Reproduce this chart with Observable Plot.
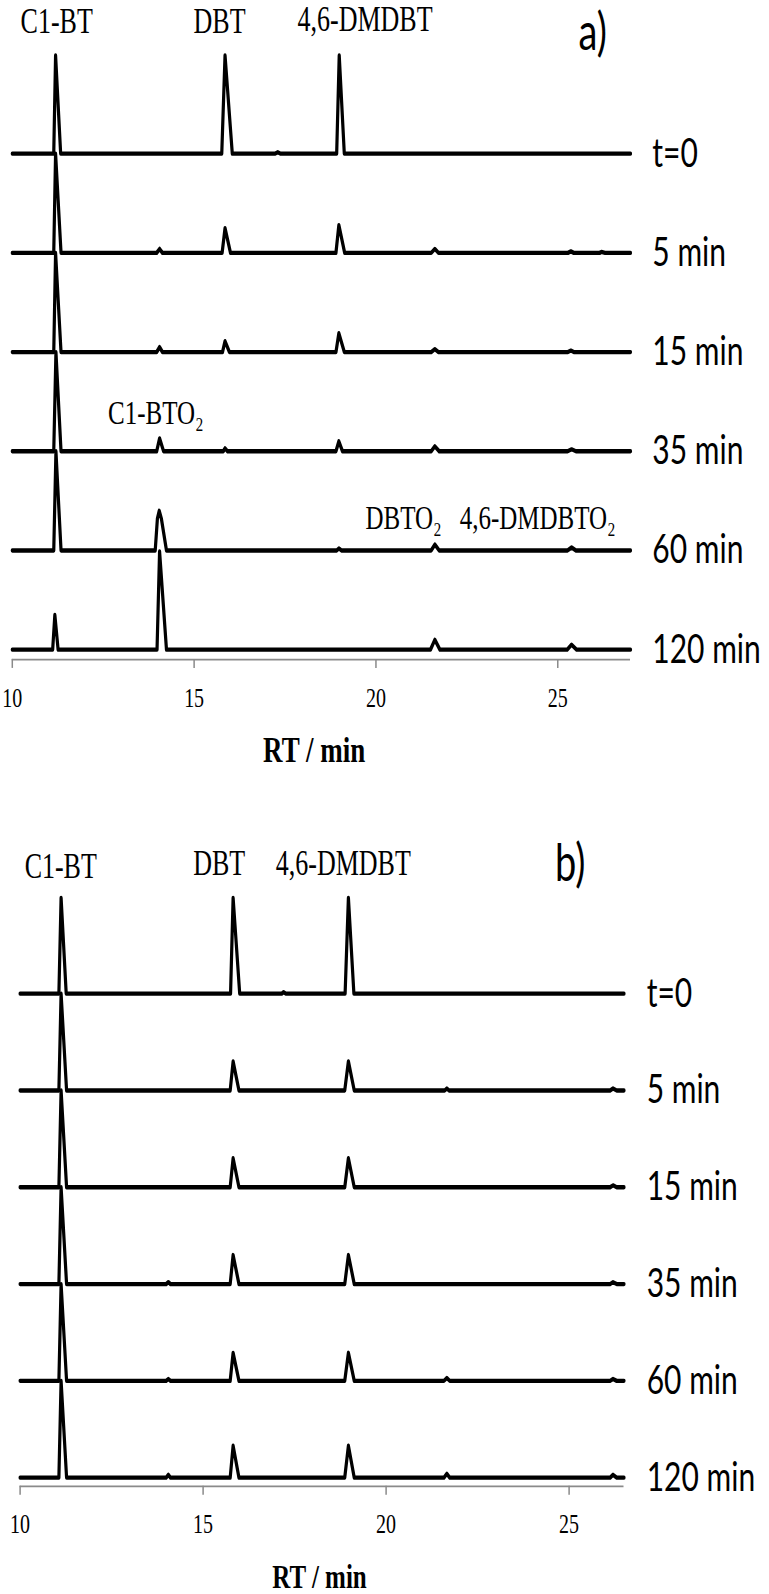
<!DOCTYPE html>
<html><head><meta charset="utf-8">
<script src="https://cdn.jsdelivr.net/npm/d3@7"></script>
<script src="https://cdn.jsdelivr.net/npm/@observablehq/plot@0.6"></script>
<style>html,body{margin:0;padding:0;background:#fff;} svg{display:block;}</style>
</head><body><div id="chart"></div>
<script>
// ---------- data ----------
const timeLabels = ["t=0", "5 min", "15 min", "35 min", "60 min", "120 min"];
const traceOffsets = [500, 400, 300, 200, 100, 0];
const xTicks = [10, 15, 20, 25];

// Panel a) — chromatogram vertices [RT (min), relative intensity]
const a_t0 = [[10,0],[11.14,0],[11.19,99],[11.33,0],[15.76,0],[15.85,99],[16.05,0],[17.22,0],[17.3,1.5],[17.38,0],[18.92,0],[18.99,99],[19.13,0],[27,0]];
const a_5 = [[10,0],[11.14,0],[11.19,100],[11.34,0],[13.97,0],[14.05,4],[14.13,0],[15.77,0],[15.85,25],[16.0,0],[18.9,0],[18.98,28],[19.14,0],[21.52,0],[21.62,4],[21.72,0],[25.28,0],[25.36,1.5],[25.44,0],[26.15,0],[26.2,1],[26.3,0],[27,0]];
const a_15 = [[10,0],[11.14,0],[11.19,100],[11.34,0],[13.97,0],[14.05,5],[14.13,0],[15.78,0],[15.85,11],[15.97,0],[18.9,0],[18.98,19],[19.13,0],[21.52,0],[21.62,3],[21.72,0],[25.28,0],[25.36,1.5],[25.44,0],[27,0]];
const a_35 = [[10,0],[11.14,0],[11.2,100],[11.34,0],[13.97,0],[14.05,13],[14.16,0],[15.8,0],[15.85,3],[15.92,0],[18.9,0],[18.98,10],[19.08,0],[21.52,0],[21.62,5],[21.74,0],[25.27,0],[25.38,2],[25.5,0],[27,0]];
const a_60 = [[10,0],[11.14,0],[11.2,100],[11.34,0],[13.93,0],[13.99,32],[14.04,40],[14.1,32],[14.24,0],[18.92,0],[18.98,2],[19.05,0],[21.52,0],[21.62,6],[21.74,0],[25.27,0],[25.38,3],[25.5,0],[27,0]];
const a_120 = [[10,0],[11.11,0],[11.17,35],[11.26,0],[13.98,0],[14.05,99],[14.24,0],[21.5,0],[21.62,10],[21.76,0],[25.26,0],[25.38,5],[25.52,0],[27,0]];

// Panel b)
const b_t0 = [[10,0],[11.06,0],[11.12,99],[11.26,0],[15.75,0],[15.82,99],[16.0,0],[17.15,0],[17.2,1.5],[17.26,0],[18.88,0],[18.97,99],[19.12,0],[26.5,0]];
const b_5 = [[10,0],[11.06,0],[11.12,100],[11.27,0],[15.74,0],[15.82,30],[15.98,0],[18.87,0],[18.97,30],[19.13,0],[21.6,0],[21.66,2],[21.72,0],[26.12,0],[26.2,2],[26.3,0],[26.5,0]];
const b_15 = [[10,0],[11.06,0],[11.12,100],[11.27,0],[15.74,0],[15.82,30],[15.98,0],[18.87,0],[18.97,30],[19.13,0],[26.12,0],[26.2,2],[26.3,0],[26.5,0]];
const b_35 = [[10,0],[11.06,0],[11.12,100],[11.27,0],[13.99,0],[14.05,2],[14.11,0],[15.74,0],[15.82,30],[15.98,0],[18.87,0],[18.97,30],[19.13,0],[26.12,0],[26.2,2],[26.3,0],[26.5,0]];
const b_60 = [[10,0],[11.06,0],[11.12,100],[11.27,0],[13.99,0],[14.05,2],[14.11,0],[15.74,0],[15.82,29],[15.98,0],[18.87,0],[18.97,29],[19.13,0],[21.58,0],[21.66,3],[21.74,0],[26.12,0],[26.2,2],[26.3,0],[26.5,0]];
const b_120 = [[10,0],[11.06,0],[11.12,100],[11.27,0],[13.99,0],[14.05,3],[14.11,0],[15.74,0],[15.82,33],[15.98,0],[18.87,0],[18.97,33],[19.13,0],[21.58,0],[21.66,4],[21.74,0],[26.12,0],[26.2,3],[26.3,0],[26.5,0]];

// annotation labels
const a_peakNames = ["C1-BT", "DBT", "4,6-DMDBT"];
const a_peakX = [11.22, 15.70, 19.70];
const a_peakY = [633, 633, 635];
const a_prodNames = ["C1-BTO₂", "DBTO₂", "4,6-DMDBTO₂"];
const a_prodX = [13.95, 20.76, 24.45];
const a_prodY = [238, 133, 133];
const b_peakNames = ["C1-BT", "DBT", "4,6-DMDBT"];
const b_peakX = [11.11, 15.44, 18.83];
const b_peakY = [631, 634, 634];

// ---------- drawing ----------
const K = 1.35; // vertical stretch of the original figure
const W = 769;

function panel(cfg) {
  const H = cfg.svgH / K;
  const yLocal = u => cfg.base0 - cfg.svgTop - cfg.pxPerUnit * u;
  const mt = yLocal(cfg.yTop) / K;
  const mb = (cfg.svgH - yLocal(cfg.yBot)) / K;
  const rows = [];
  cfg.traces.forEach((tr, i) => tr.forEach(([rt, v]) => rows.push({trace: timeLabels[i], rt, y: traceOffsets[i] + v})));
  const serif = "Liberation Serif, Times New Roman, serif";
  const sans = "Lato, Open Sans, sans-serif";
  const svg = Plot.plot({
    width: W, height: H,
    marginLeft: cfg.x0, marginRight: W - cfg.x1, marginTop: mt, marginBottom: mb,
    x: {domain: cfg.xDomain},
    y: {domain: [cfg.yBot, cfg.yTop], axis: null},
    style: {background: "white", overflow: "visible"},
    marks: [
      Plot.ruleY([cfg.yBot], {stroke: "#8a8a8a", strokeWidth: 1.3}),
      Plot.axisX({ticks: xTicks, tickSize: 9 / K, tickPadding: 14, stroke: "#8a8a8a", strokeWidth: 1.5,
        fill: "black", fontSize: 20, fontFamily: serif, label: null, tickFormat: d => String(d)}),
      Plot.line(rows, {x: "rt", y: "y", z: "trace", stroke: "black", strokeWidth: 3.2, strokeLinejoin: "round"}),
      Plot.text(timeLabels, {x: () => cfg.labelX, y: (d, i) => traceOffsets[i], text: d => d,
        textAnchor: "start", fontFamily: sans, fontSize: 30, fill: "black"}),
      Plot.text(cfg.peakNames, {x: (d, i) => cfg.peakX[i], y: (d, i) => cfg.peakY[i], text: d => d,
        fontFamily: serif, fontSize: 26, fill: "black"}),
      ...(cfg.prodNames ? [Plot.text(cfg.prodNames, {x: (d, i) => cfg.prodX[i], y: (d, i) => cfg.prodY[i], text: d => d,
        fontFamily: serif, fontSize: 25, fill: "black"})] : []),
      Plot.text([cfg.letter], {x: cfg.letterX, y: cfg.letterY, text: d => d, fontFamily: sans, fontSize: 38, fill: "black"}),
      Plot.text(["RT / min"], {x: cfg.rtX, y: cfg.rtY, text: d => d, fontFamily: serif, fontWeight: "bold", fontSize: cfg.rtSize, fill: "black"})
    ]
  });
  svg.setAttribute("height", cfg.svgH);
  svg.setAttribute("preserveAspectRatio", "none");
  svg.style.width = W + "px";
  svg.style.maxWidth = "none";
  svg.style.height = cfg.svgH + "px";
  return svg;
}

const chart = document.getElementById("chart");
chart.appendChild(panel({
  svgTop: 0, svgH: 775, base0: 649, pxPerUnit: 0.992, yBot: -10, yTop: 600,
  x0: 11.8, x1: 630, xDomain: [10, 27], labelX: 27.6,
  traces: [a_t0, a_5, a_15, a_35, a_60, a_120],
  peakNames: a_peakNames, peakX: a_peakX, peakY: a_peakY,
  prodNames: a_prodNames, prodX: a_prodX, prodY: a_prodY,
  letter: "a)", letterX: 25.96, letterY: 621, rtX: 18.3, rtY: -101, rtSize: 27
}));
chart.appendChild(panel({
  svgTop: 775, svgH: 819, base0: 1477, pxPerUnit: 0.968, yBot: -9, yTop: 600,
  x0: 19.6, x1: 623.5, xDomain: [10, 26.5], labelX: 27.12,
  traces: [b_t0, b_5, b_15, b_35, b_60, b_120],
  peakNames: b_peakNames, peakX: b_peakX, peakY: b_peakY,
  letter: "b)", letterX: 25.03, letterY: 633, rtX: 18.18, rtY: -103, rtSize: 25
}));
</script>
</body></html>
